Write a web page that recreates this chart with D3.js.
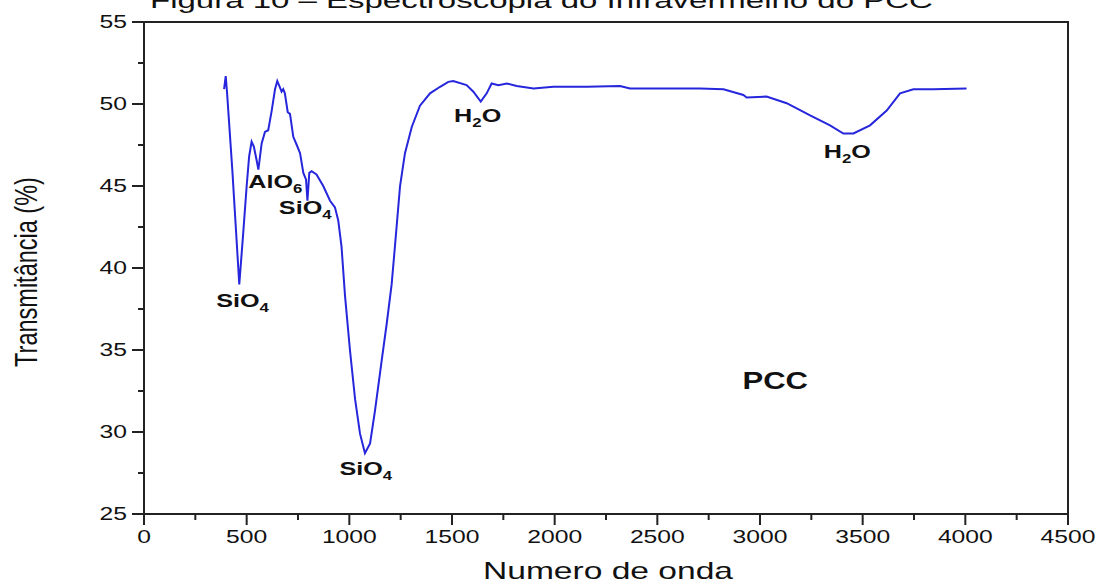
<!DOCTYPE html>
<html>
<head>
<meta charset="utf-8">
<script src="https://cdn.jsdelivr.net/npm/d3@7"></script>
<style>
  body { margin: 0; background: #fff; }
  text { font-family: "Liberation Sans", Arial, sans-serif; fill: #111; }
</style>
</head>
<body>
<div id="chart"></div>
<script>
// spectrum: wavenumber / transmittance (%)
var waveNumbers = [390, 398, 405, 430, 464, 483, 500, 512, 524, 535, 548, 557, 573, 589, 605, 622, 638, 649, 659, 670, 678, 686, 700, 711, 727, 744, 760, 776, 789, 796, 805, 816, 840, 873, 906, 930, 946, 962, 979, 1003, 1028, 1052, 1076, 1101, 1125, 1158, 1182, 1206, 1222, 1247, 1271, 1304, 1344, 1393, 1442, 1482, 1506, 1571, 1604, 1640, 1669, 1693, 1726, 1767, 1815, 1897, 1994, 2157, 2318, 2367, 2480, 2708, 2822, 2919, 2935, 3032, 3130, 3244, 3341, 3406, 3455, 3536, 3617, 3682, 3747, 3844, 4006];
var transmit = [50.9, 51.7, 50.6, 46.0, 39.0, 42.1, 45.0, 46.8, 47.7, 47.4, 46.6, 46.0, 47.6, 48.3, 48.4, 49.6, 50.9, 51.4, 51.1, 50.75, 50.9, 50.65, 49.5, 49.4, 48.0, 47.5, 47.0, 45.8, 45.4, 44.1, 45.8, 45.9, 45.7, 45.0, 44.1, 43.7, 42.9, 41.3, 38.3, 35.0, 32.0, 29.9, 28.7, 29.3, 31.3, 34.4, 36.6, 39.0, 41.3, 45.0, 47.0, 48.6, 49.9, 50.65, 51.05, 51.35, 51.4, 51.15, 50.75, 50.15, 50.65, 51.25, 51.15, 51.25, 51.1, 50.95, 51.05, 51.05, 51.1, 50.95, 50.95, 50.95, 50.9, 50.55, 50.4, 50.45, 50.05, 49.3, 48.7, 48.2, 48.2, 48.7, 49.6, 50.65, 50.9, 50.9, 50.95];

var xTicks = [0, 500, 1000, 1500, 2000, 2500, 3000, 3500, 4000, 4500];
var yTicks = [25, 30, 35, 40, 45, 50, 55];

// band labels: [main text, subscript, trailing text, wavenumber, transmittance]
var bandLabels = [
  ["SiO", "4", "", 480, 37.6],
  ["AlO", "6", "", 640, 44.9],
  ["SiO", "4", "", 785, 43.3],
  ["SiO", "4", "", 1080, 27.4],
  ["H", "2", "O", 1625, 48.9],
  ["H", "2", "O", 3425, 46.7]
];

var W = 1110, H = 587;
var margin = {top: 22, right: 42, bottom: 73, left: 144};
var sx = 1.3; // the reference is stretched sideways

var svg = d3.select("#chart").append("svg")
  .attr("width", W)
  .attr("height", H);

var x = d3.scaleLinear().domain([0, 4500]).range([margin.left, W - margin.right]);
var y = d3.scaleLinear().domain([25, 55]).range([H - margin.bottom, margin.top]);

// cut-off caption at the top
svg.append("text")
  .attr("transform", "translate(150,8) scale(1.5,1)")
  .style("font-size", "22px")
  .text("Figura 10 – Espectroscopia do Infravermelho do PCC");

// frame
svg.append("rect")
  .attr("x", x(0)).attr("y", y(55))
  .attr("width", x(4500) - x(0)).attr("height", y(25) - y(55))
  .attr("fill", "none").attr("stroke", "#222").attr("stroke-width", 2);

// minor ticks
var xMinor = d3.range(250, 4500, 500);
svg.selectAll(".xminor").data(xMinor).enter().append("line")
  .attr("x1", d => x(d)).attr("x2", d => x(d))
  .attr("y1", y(25)).attr("y2", y(25) + 6)
  .attr("stroke", "#222").attr("stroke-width", 2);
var yMinor = d3.range(27.5, 55, 5);
svg.selectAll(".yminor").data(yMinor).enter().append("line")
  .attr("x1", x(0) - 6).attr("x2", x(0))
  .attr("y1", d => y(d)).attr("y2", d => y(d))
  .attr("stroke", "#222").attr("stroke-width", 2);

// major ticks + labels
svg.selectAll(".xmajor").data(xTicks).enter().append("line")
  .attr("x1", d => x(d)).attr("x2", d => x(d))
  .attr("y1", y(25)).attr("y2", y(25) + 11)
  .attr("stroke", "#222").attr("stroke-width", 2);
svg.selectAll(".xlab").data(xTicks).enter().append("text")
  .attr("transform", d => "translate(" + x(d) + "," + (y(25) + 29) + ") scale(" + sx + ",1)")
  .attr("text-anchor", "middle")
  .style("font-size", "19px")
  .text(d => d);

svg.selectAll(".ymajor").data(yTicks).enter().append("line")
  .attr("x1", x(0) - 12).attr("x2", x(0))
  .attr("y1", d => y(d)).attr("y2", d => y(d))
  .attr("stroke", "#222").attr("stroke-width", 2);
svg.selectAll(".ylab").data(yTicks).enter().append("text")
  .attr("transform", d => "translate(" + (x(0) - 17) + "," + (y(d) + 6) + ") scale(" + sx + ",1)")
  .attr("text-anchor", "end")
  .style("font-size", "19px")
  .text(d => d);

// axis titles
svg.append("text")
  .attr("transform", "translate(" + ((x(0) + x(4500)) / 2 + 2) + "," + (H - 8) + ") scale(1.46,1)")
  .attr("text-anchor", "middle")
  .style("font-size", "23px")
  .text("Numero de onda");

svg.append("text")
  .attr("transform", "translate(37,272) scale(" + sx + ",1) rotate(-90)")
  .attr("text-anchor", "middle")
  .style("font-size", "23.5px")
  .text("Transmitância (%)");

// spectrum
var line = d3.line()
  .x((d, i) => x(waveNumbers[i]))
  .y(d => y(d));
svg.append("path")
  .datum(transmit)
  .attr("d", line)
  .attr("fill", "none")
  .attr("stroke", "#2626dc")
  .attr("stroke-width", 2);

// band labels
bandLabels.forEach(function(b) {
  var t = svg.append("text")
    .attr("transform", "translate(" + x(b[3]) + "," + y(b[4]) + ") scale(1.4,1)")
    .attr("text-anchor", "middle")
    .style("font-size", "18px")
    .style("font-weight", "bold");
  t.append("tspan").text(b[0]);
  t.append("tspan").attr("dy", 5).style("font-size", "12px").text(b[1]);
  if (b[2]) t.append("tspan").attr("dy", -5).text(b[2]);
});

svg.append("text")
  .attr("transform", "translate(" + x(3074) + "," + y(32.6) + ") scale(1.35,1)")
  .attr("text-anchor", "middle")
  .style("font-size", "23px")
  .style("font-weight", "bold")
  .text("PCC");
</script>
</body>
</html>
